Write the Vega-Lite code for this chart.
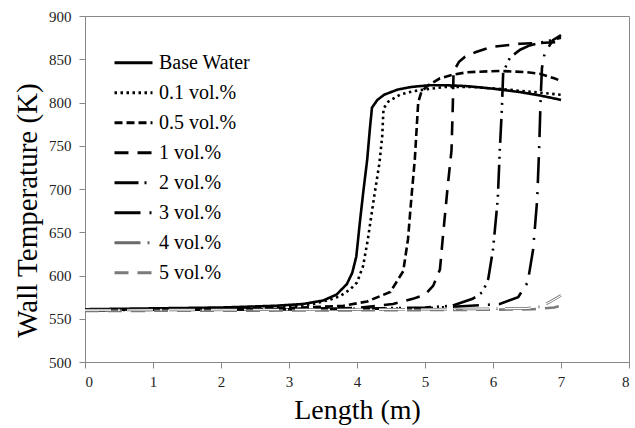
{
  "$schema": "https://vega.github.io/schema/vega-lite/v6.json",
  "width": 544,
  "height": 346,
  "autosize": {"type": "none"},
  "padding": {"left": 85, "top": 16, "right": 6, "bottom": 66},
  "config": {
    "font": "Liberation Serif",
    "view": {"stroke": "#888", "strokeWidth": 1},
    "axis": {
      "grid": false,
      "domainColor": "#888",
      "tickColor": "#888",
      "tickSize": 6,
      "labelFontSize": 15,
      "labelColor": "#222",
      "labelFont": "Liberation Serif",
      "titleFont": "Liberation Serif",
      "titleFontSize": 28,
      "titleFontWeight": "normal",
      "titleColor": "#000"
    }
  },
  "datasets": {
    "curves": [
      {"s":"Base Water","x":0,"T":561},{"s":"Base Water","x":1,"T":562},{"s":"Base Water","x":2,"T":563},{"s":"Base Water","x":2.8,"T":565},{"s":"Base Water","x":3.2,"T":567},{"s":"Base Water","x":3.5,"T":571},{"s":"Base Water","x":3.7,"T":578},{"s":"Base Water","x":3.85,"T":590},{"s":"Base Water","x":3.93,"T":603},{"s":"Base Water","x":3.99,"T":622},{"s":"Base Water","x":4.04,"T":660},{"s":"Base Water","x":4.09,"T":695},{"s":"Base Water","x":4.15,"T":734},{"s":"Base Water","x":4.19,"T":770},{"s":"Base Water","x":4.22,"T":794},{"s":"Base Water","x":4.3,"T":803},{"s":"Base Water","x":4.4,"T":809},{"s":"Base Water","x":4.6,"T":815},{"s":"Base Water","x":4.8,"T":818},{"s":"Base Water","x":5.07,"T":820},{"s":"Base Water","x":5.3,"T":820},{"s":"Base Water","x":5.6,"T":819},{"s":"Base Water","x":6.0,"T":816},{"s":"Base Water","x":6.4,"T":812},{"s":"Base Water","x":6.7,"T":808},{"s":"Base Water","x":7.0,"T":803},
      {"s":"0.1 vol.%","x":0,"T":560},{"s":"0.1 vol.%","x":1,"T":561},{"s":"0.1 vol.%","x":2,"T":562},{"s":"0.1 vol.%","x":3,"T":564},{"s":"0.1 vol.%","x":3.35,"T":567},{"s":"0.1 vol.%","x":3.6,"T":572},{"s":"0.1 vol.%","x":3.75,"T":576},{"s":"0.1 vol.%","x":3.9,"T":584},{"s":"0.1 vol.%","x":4.0,"T":592},{"s":"0.1 vol.%","x":4.09,"T":611},{"s":"0.1 vol.%","x":4.16,"T":642},{"s":"0.1 vol.%","x":4.25,"T":690},{"s":"0.1 vol.%","x":4.33,"T":730},{"s":"0.1 vol.%","x":4.37,"T":760},{"s":"0.1 vol.%","x":4.39,"T":793},{"s":"0.1 vol.%","x":4.46,"T":801},{"s":"0.1 vol.%","x":4.63,"T":809},{"s":"0.1 vol.%","x":4.82,"T":813},{"s":"0.1 vol.%","x":5.0,"T":815},{"s":"0.1 vol.%","x":5.3,"T":818},{"s":"0.1 vol.%","x":5.7,"T":818},{"s":"0.1 vol.%","x":6.2,"T":815},{"s":"0.1 vol.%","x":6.6,"T":812},{"s":"0.1 vol.%","x":7.0,"T":809},
      {"s":"0.5 vol.%","x":0,"T":560},{"s":"0.5 vol.%","x":1,"T":561},{"s":"0.5 vol.%","x":2,"T":561.5},{"s":"0.5 vol.%","x":3,"T":562.5},{"s":"0.5 vol.%","x":3.5,"T":564},{"s":"0.5 vol.%","x":3.8,"T":565},{"s":"0.5 vol.%","x":4.15,"T":570},{"s":"0.5 vol.%","x":4.49,"T":581},{"s":"0.5 vol.%","x":4.68,"T":605},{"s":"0.5 vol.%","x":4.75,"T":642},{"s":"0.5 vol.%","x":4.8,"T":690},{"s":"0.5 vol.%","x":4.85,"T":734},{"s":"0.5 vol.%","x":4.9,"T":800},{"s":"0.5 vol.%","x":4.95,"T":813},{"s":"0.5 vol.%","x":5.05,"T":820},{"s":"0.5 vol.%","x":5.22,"T":828},{"s":"0.5 vol.%","x":5.4,"T":832},{"s":"0.5 vol.%","x":5.62,"T":835},{"s":"0.5 vol.%","x":6.1,"T":836.5},{"s":"0.5 vol.%","x":6.5,"T":835},{"s":"0.5 vol.%","x":6.7,"T":833},{"s":"0.5 vol.%","x":6.9,"T":828},{"s":"0.5 vol.%","x":7.0,"T":825},
      {"s":"1 vol.%","x":0,"T":560},{"s":"1 vol.%","x":2,"T":561},{"s":"1 vol.%","x":3,"T":561.5},{"s":"1 vol.%","x":4,"T":562.5},{"s":"1 vol.%","x":4.53,"T":567},{"s":"1 vol.%","x":4.82,"T":573},{"s":"1 vol.%","x":5.0,"T":578},{"s":"1 vol.%","x":5.12,"T":588},{"s":"1 vol.%","x":5.22,"T":607},{"s":"1 vol.%","x":5.26,"T":642},{"s":"1 vol.%","x":5.33,"T":700},{"s":"1 vol.%","x":5.39,"T":745},{"s":"1 vol.%","x":5.41,"T":800},{"s":"1 vol.%","x":5.42,"T":836},{"s":"1 vol.%","x":5.5,"T":847},{"s":"1 vol.%","x":5.59,"T":853},{"s":"1 vol.%","x":5.74,"T":858},{"s":"1 vol.%","x":5.96,"T":864},{"s":"1 vol.%","x":6.4,"T":868},{"s":"1 vol.%","x":6.76,"T":869},{"s":"1 vol.%","x":7.0,"T":870},
      {"s":"2 vol.%","x":0,"T":560},{"s":"2 vol.%","x":3,"T":561},{"s":"2 vol.%","x":4,"T":561.5},{"s":"2 vol.%","x":5,"T":563},{"s":"2 vol.%","x":5.4,"T":565},{"s":"2 vol.%","x":5.7,"T":573},{"s":"2 vol.%","x":5.85,"T":581},{"s":"2 vol.%","x":5.93,"T":596},{"s":"2 vol.%","x":6.0,"T":630},{"s":"2 vol.%","x":6.07,"T":688},{"s":"2 vol.%","x":6.1,"T":745},{"s":"2 vol.%","x":6.13,"T":792},{"s":"2 vol.%","x":6.15,"T":835},{"s":"2 vol.%","x":6.25,"T":852},{"s":"2 vol.%","x":6.4,"T":861},{"s":"2 vol.%","x":6.54,"T":866},{"s":"2 vol.%","x":6.8,"T":871},{"s":"2 vol.%","x":7.0,"T":875},
      {"s":"3 vol.%","x":0,"T":560},{"s":"3 vol.%","x":3,"T":561},{"s":"3 vol.%","x":5,"T":562},{"s":"3 vol.%","x":6.1,"T":567},{"s":"3 vol.%","x":6.37,"T":575},{"s":"3 vol.%","x":6.51,"T":592},{"s":"3 vol.%","x":6.59,"T":630},{"s":"3 vol.%","x":6.65,"T":688},{"s":"3 vol.%","x":6.68,"T":750},{"s":"3 vol.%","x":6.7,"T":803},{"s":"3 vol.%","x":6.72,"T":840},{"s":"3 vol.%","x":6.76,"T":857},{"s":"3 vol.%","x":6.88,"T":872},{"s":"3 vol.%","x":7.0,"T":878},
      {"s":"4 vol.%","x":0,"T":560},{"s":"4 vol.%","x":3,"T":560.5},{"s":"4 vol.%","x":5,"T":561},{"s":"4 vol.%","x":6,"T":561.5},{"s":"4 vol.%","x":6.5,"T":562},{"s":"4 vol.%","x":6.7,"T":564},{"s":"4 vol.%","x":6.85,"T":570},{"s":"4 vol.%","x":7.0,"T":577},
      {"s":"5 vol.%","x":0,"T":559},{"s":"5 vol.%","x":3,"T":559.5},{"s":"5 vol.%","x":5,"T":560},{"s":"5 vol.%","x":6,"T":560.5},{"s":"5 vol.%","x":6.6,"T":561},{"s":"5 vol.%","x":6.9,"T":563},{"s":"5 vol.%","x":7.0,"T":565}
    ]
  },
  "data": {"name": "curves"},
  "layer": [
    {
      "mark": {"type": "line", "strokeWidth": 2.6, "clip": true},
      "encoding": {
        "x": {"field": "x", "type": "quantitative", "scale": {"domain": [0, 8], "nice": false},
              "axis": {"values": [0,1,2,3,4,5,6,7,8], "format": "d", "title": "Length (m)", "labelPadding": 6, "titleX": 272, "titleY": 34, "titleBaseline": "top"}},
        "y": {"field": "T", "type": "quantitative", "scale": {"domain": [500, 900], "nice": false, "zero": false},
              "axis": {"values": [500,550,600,650,700,750,800,850,900], "format": "d", "title": "Wall Temperature (K)", "titleFontSize": 29, "labelPadding": 8, "titleX": -43, "titleY": 194, "titleBaseline": "bottom"}},
        "color": {"field": "s", "type": "nominal",
                  "scale": {"domain": ["Base Water","0.1 vol.%","0.5 vol.%","1 vol.%","2 vol.%","3 vol.%","4 vol.%","5 vol.%"],
                            "range": ["#000","#000","#000","#000","#000","#000","#6a6a6a","#7a7a7a"]},
                  "legend": {"title": null, "orient": "none", "legendX": 28, "legendY": 32, "padding": 0,
                             "symbolType": "stroke", "symbolSize": 1444, "symbolStrokeWidth": 3,
                             "labelFontSize": 20, "labelFont": "Liberation Serif", "labelColor": "#000",
                             "labelOffset": 5, "rowPadding": 0, "clipHeight": 29.3}},
        "strokeDash": {"field": "s", "type": "nominal",
                  "scale": {"domain": ["Base Water","0.1 vol.%","0.5 vol.%","1 vol.%","2 vol.%","3 vol.%","4 vol.%","5 vol.%"],
                            "range": [[1,0],[2.5,3.5],[8,4],[14,9],[24,6,2,6,2,6],[26,9,2,9],[26,7,2,7],[14,9]]},
                  "legend": {"title": null, "orient": "none", "legendX": 28, "legendY": 32, "padding": 0,
                             "symbolType": "stroke", "symbolSize": 1444, "symbolStrokeWidth": 3,
                             "labelFontSize": 20, "labelFont": "Liberation Serif", "labelColor": "#000",
                             "labelOffset": 5, "rowPadding": 0, "clipHeight": 29.3}}
      }
    },
    {
      "transform": [{"filter": "datum.s == '4 vol.%'"}],
      "mark": {"type": "line", "strokeWidth": 1.2, "color": "#fff", "strokeDash": [26,7,2,7], "clip": true},
      "encoding": {
        "x": {"field": "x", "type": "quantitative"},
        "y": {"field": "T", "type": "quantitative"}
      }
    }
  ]
}
